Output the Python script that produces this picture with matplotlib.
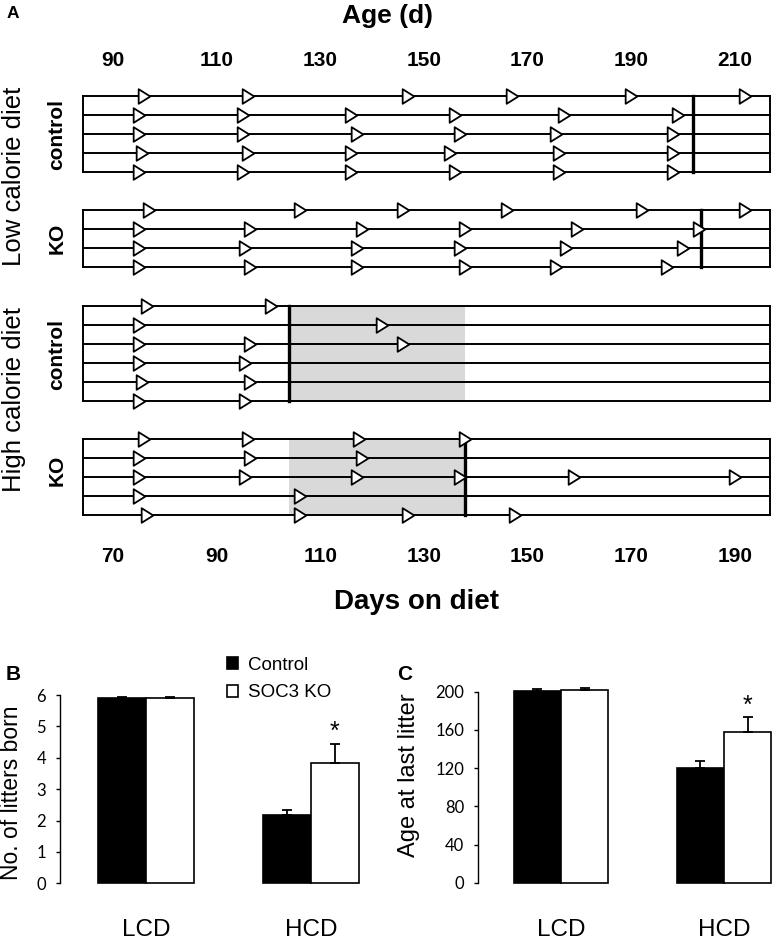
import matplotlib
matplotlib.use("Agg")
import matplotlib.pyplot as plt
import numpy as np
from matplotlib.patches import Patch
from matplotlib.path import Path

plt.rcParams["font.family"] = ["Liberation Sans", "DejaVu Sans"]

# panel A: day on diet of every litter, one list per female
lcd_control = [
    [76, 96, 127, 147, 170, 192],
    [75, 95, 116, 136, 157, 179],
    [75, 95, 117, 137, 155.5, 178],
    [75.5, 96, 116, 135, 156, 178],
    [75, 95, 116, 136, 156, 178],
]
lcd_ko = [
    [77, 106, 126, 146, 172, 192],
    [75, 96.5, 118, 138, 159.5, 183],
    [75, 95.5, 117, 137, 157.5, 180],
    [75, 96.5, 117, 138, 155.5, 177],
]
hcd_control = [
    [76.5, 100.5],
    [75, 122],
    [75, 96.5, 126],
    [75, 95.5],
    [75.5, 96.5],
    [75, 95.5],
]
hcd_ko = [
    [76, 96, 117.5, 138],
    [75, 96.5, 118],
    [75, 95.5, 117, 137, 159, 190],
    [75, 106],
    [76.5, 106, 127, 147.5],
]
group_end = [182, 183.5, 104, 138]   # thick bar, day of last litter
hcd_window = [104, 138]              # grey window on high calorie diet
days_ticks = [70, 90, 110, 130, 150, 170, 190]
age_ticks = [90, 110, 130, 150, 170, 190, 210]
age_at_start = 20

# panels B and C
diets = ["LCD", "HCD"]
litters_ctrl = [5.9, 2.17]
litters_ctrl_err = [0.04, 0.16]
litters_ko = [5.9, 3.82]
litters_ko_err = [0.04, 0.62]
litters_ticks = [0, 1, 2, 3, 4, 5, 6]
last_age_ctrl = [200.5, 120]
last_age_ctrl_err = [2.5, 7.5]
last_age_ko = [201.5, 158]
last_age_ko_err = [2.5, 15]
last_age_ticks = [0, 40, 80, 120, 160, 200]

W, H = 777, 942
fig = plt.figure(figsize=(W / 100, H / 100), dpi=100)


def fx(px):
    return px / W


def fy(py):
    return 1 - py / H


# ---------------- panel A ----------------
tri = Path([(-0.8, 1), (0.8, 0), (-0.8, -1), (-0.8, 1)], closed=True)
x_start, x_stop = 64.2, 196.8

axA = fig.add_axes([fx(83), fy(524.5), (770 - 83) / W, (524.5 - 86.5) / H])
axA.set_xlim(x_start, x_stop)
axA.set_ylim(22.5, -0.5)

row = 0
for mice, end, shade in zip([lcd_control, lcd_ko, hcd_control, hcd_ko],
                            group_end, [None, None, hcd_window, hcd_window]):
    top, bottom = row, row + len(mice) - 1
    if shade:
        axA.fill_between(shade, top, bottom, color="#d9d9d9", lw=0, zorder=0)
    for i, days in enumerate(mice):
        y = row + i
        axA.plot([x_start, x_stop], [y, y], color="black", lw=1.4, zorder=2, clip_on=False)
        axA.plot(days, [y] * len(days), ls="none", marker=tri, ms=10.5,
                 mfc="white", mec="black", mew=1.3, zorder=4, clip_on=False)
    for x in (x_start, x_stop):
        axA.plot([x, x], [top, bottom], color="black", lw=1.4, zorder=2, clip_on=False)
    axA.plot([end, end], [top, bottom], color="black", lw=2.4, zorder=3)
    row += len(mice) + 1

for s in axA.spines.values():
    s.set_visible(False)
axA.set_yticks([])
axA.set_xticks(days_ticks, [str(d) for d in days_ticks], fontsize=15, fontweight="bold")
axA.tick_params(axis="x", length=0, pad=16)
sec = axA.secondary_xaxis("top", functions=(lambda d: d + age_at_start,
                                            lambda a: a - age_at_start))
sec.set_xticks(age_ticks, [str(a) for a in age_ticks], fontsize=15, fontweight="bold")
sec.tick_params(length=0, pad=12)
sec.spines["top"].set_visible(False)

fig.text(fx(7), fy(18), "A", fontsize=12.5, fontweight="bold", ha="left", va="baseline")
fig.text(fx(388), fy(23), "Age (d)", fontsize=19, fontweight="bold", ha="center", va="baseline")
fig.text(fx(416), fy(609), "Days on diet", fontsize=20, fontweight="bold", ha="center", va="baseline")
fig.text(fx(14), fy(176), "Low calorie diet", fontsize=18.5, rotation=90, ha="center", va="center")
fig.text(fx(14), fy(400), "High calorie diet", fontsize=18.5, rotation=90, ha="center", va="center")
for y, s in [(134, "control"), (238, "KO"), (354, "control"), (470, "KO")]:
    fig.text(fx(57), fy(y), s, fontsize=15, fontweight="bold", rotation=90,
             ha="center", va="center")


# ---------------- panels B and C ----------------
def bar_panel(ax, ctrl, ctrl_err, ko, ko_err, ticks, w):
    x = np.arange(len(diets))
    bars = list(ax.bar(x - w / 2, ctrl, w, color="black", edgecolor="black", lw=1.2))
    bars += list(ax.bar(x + w / 2, ko, w, color="white", edgecolor="black", lw=1.2))
    for b in bars:
        b.set_clip_on(False)
    for xs, vals, err in [(x - w / 2, ctrl, ctrl_err), (x + w / 2, ko, ko_err)]:
        eb = ax.errorbar(xs, vals, yerr=[[0] * len(err), err], fmt="none", ecolor="black",
                         elinewidth=1.3, capsize=3.5, capthick=1.3)
        for a in eb.get_children():
            a.set_clip_on(False)
    ax.text(x[1] + w / 2, ko[1] + ko_err[1], "*", fontsize=18, ha="center", va="bottom")
    for side in ["top", "right", "bottom"]:
        ax.spines[side].set_visible(False)
    ax.spines["left"].set_linewidth(1.0)
    ax.set_ylim(0, ticks[-1])
    ax.set_yticks(ticks, [str(t) for t in ticks], fontfamily="Lato", fontsize=12)
    ax.tick_params(axis="y", direction="out", length=3, width=1, pad=7)
    ax.set_xticks(x, diets, fontsize=17.5)
    ax.tick_params(axis="x", length=0, pad=26)


axB = fig.add_axes([fx(60), fy(883.3), (370 - 60) / W, (883.3 - 695) / H])
axB.set_xlim(-86 / 165, 224 / 165)
bar_panel(axB, litters_ctrl, litters_ctrl_err, litters_ko, litters_ko_err, litters_ticks, 0.29)

axC = fig.add_axes([fx(478), fy(882.7), (777 - 478) / W, (882.7 - 691.7) / H])
axC.set_xlim(-83 / 163, 216 / 163)
bar_panel(axC, last_age_ctrl, last_age_ctrl_err, last_age_ko, last_age_ko_err, last_age_ticks, 0.29)

fig.text(fx(12), fy(793), "No. of litters born", fontsize=16.5, rotation=90, ha="center", va="center")
fig.text(fx(409), fy(775), "Age at last litter", fontsize=17, rotation=90, ha="center", va="center")
fig.text(fx(6), fy(680), "B", fontsize=15, fontweight="bold", ha="left", va="baseline")
fig.text(fx(397), fy(680), "C", fontsize=15, fontweight="bold", ha="left", va="baseline")

handles = [Patch(facecolor="black", edgecolor="black", lw=1.2, label="Control"),
           Patch(facecolor="white", edgecolor="black", lw=1.2, label="SOC3 KO")]
fig.legend(handles=handles, loc="upper left", bbox_to_anchor=(fx(227), fy(657)),
           frameon=False, fontsize=13.5, handlelength=0.6, handleheight=0.6,
           handletextpad=0.5, labelspacing=0.55, borderpad=0, borderaxespad=0)

fig.savefig("out.png", dpi=100)
